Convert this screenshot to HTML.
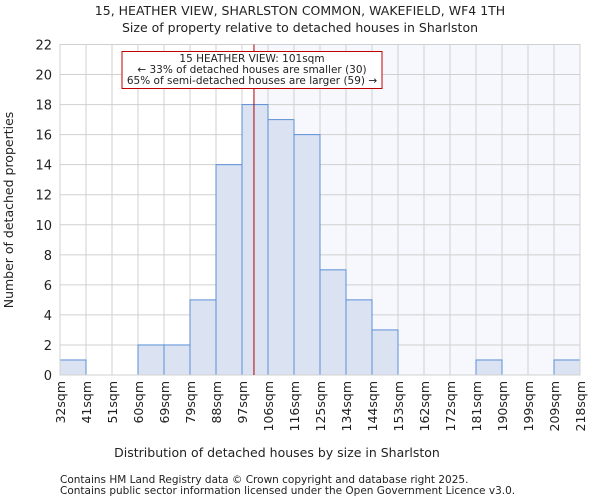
<!DOCTYPE html>
<html><head><meta charset="utf-8"><style>
body{margin:0;background:#fff;font-family:"DejaVu Sans","Liberation Sans",sans-serif;}
svg text{font-family:"DejaVu Sans","Liberation Sans",sans-serif;fill:#222;}
</style></head><body>
<svg id="chart" width="600" height="500">
<text x="300" y="15" text-anchor="middle" font-size="12.5">15, HEATHER VIEW, SHARLSTON COMMON, WAKEFIELD, WF4 1TH</text>
<text x="300" y="32" text-anchor="middle" font-size="12.5">Size of property relative to detached houses in Sharlston</text>
<g id="plot"></g>
<text x="277" y="457" text-anchor="middle" font-size="12.5">Distribution of detached houses by size in Sharlston</text>
<text transform="translate(13,210) rotate(-90)" text-anchor="middle" font-size="12.5">Number of detached properties</text>
<text x="60" y="483" font-size="10.5">Contains HM Land Registry data © Crown copyright and database right 2025.</text>
<text x="60" y="494" font-size="10.5">Contains public sector information licensed under the Open Government Licence v3.0.</text>
</svg>
<script>
const binLabels=["32sqm","41sqm","51sqm","60sqm","69sqm","79sqm","88sqm","97sqm","106sqm","116sqm","125sqm","134sqm","144sqm","153sqm","162sqm","172sqm","181sqm","190sqm","199sqm","209sqm","218sqm"];
const counts=[1,0,0,2,2,5,14,18,17,16,7,5,3,0,0,0,1,0,0,1];
const yTicks=[0,2,4,6,8,10,12,14,16,18,20,22];
const propertyBinPos=7.46;
const L=60,R=580,T=44.5,B=375,YMAX=22;
const x=i=>L+(R-L)*i/counts.length;
const y=v=>B-(B-T)*v/YMAX;
const g=document.getElementById('plot');
const NS='http://www.w3.org/2000/svg';
function mk(t,a){const e=document.createElementNS(NS,t);for(const k in a)e.setAttribute(k,a[k]);g.appendChild(e);return e;}
let e=mk('rect',{x:x(propertyBinPos),y:T,width:R-x(propertyBinPos),height:B-T,fill:'#f6f8fd'});


yTicks.forEach(v=>{
 let l=mk('line',{x1:L,x2:R,y1:y(v),y2:y(v),stroke:'#d0d0d0'});
 
 
 let t=mk('text',{x:L-8,y:y(v)+5,'text-anchor':'end','font-size':'13'});t.textContent=v;
 
 
});
binLabels.forEach((s,i)=>{
 let l=mk('line',{x1:x(i),x2:x(i),y1:T,y2:B,stroke:'#d0d0d0'});
 
 
 let t=mk('text',{transform:`translate(${x(i)+5},${B+6}) rotate(-90)`,'text-anchor':'end','font-size':'12.5'});t.textContent=s;
 
 
});
counts.forEach((c,i)=>{
 if(c<=0)return;
 let r=mk('rect',{x:x(i),y:y(c),width:x(i+1)-x(i),height:B-y(c),fill:'#dbe3f3',stroke:'#5b8fd6','stroke-width':1});
 
 
});
e=mk('rect',{x:L,y:T,width:R-L,height:B-T,fill:'none',stroke:'#d0d0d0'});


e=mk('line',{x1:x(propertyBinPos),x2:x(propertyBinPos),y1:T,y2:B,stroke:'#b00000','stroke-width':1});


e=mk('rect',{x:122,y:51.5,width:260,height:37,fill:'#fff',stroke:'#c00000'});


["15 HEATHER VIEW: 101sqm","← 33% of detached houses are smaller (30)","65% of semi-detached houses are larger (59) →"].forEach((s,i)=>{
 let t=mk('text',{x:252,y:62+i*11,'text-anchor':'middle','font-size':'10.5'});t.textContent=s;
 
 
});
</script>
</body></html>
